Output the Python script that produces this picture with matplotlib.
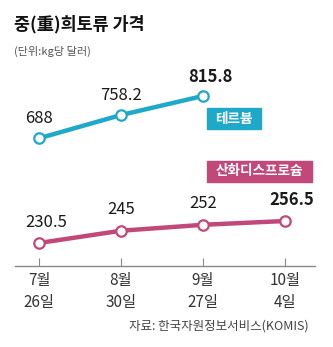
import matplotlib.pyplot as plt
from matplotlib.patches import Rectangle

plt.rcParams['font.family'] = ['Noto Sans CJK KR', 'DejaVu Sans']

dates = ['7월\n26일', '8월\n30일', '9월\n27일', '10월\n4일']
terbium = [688, 758.2, 815.8]
dysprosium = [230.5, 245, 252, 256.5]
terbium_name = '테르븀'
dysprosium_name = '산화디스프로슘'

blue = '#1ea8c9'
pink = '#c2487a'

W, H = 333, 347
fig = plt.figure(figsize=(W / 100, H / 100), dpi=100)

# plot area in pixels: x 15..315, y 60..266 (from top)
rect = [15 / W, (H - 266) / H, 300 / W, 206 / H]
ax_lo = fig.add_axes(rect)
ax_hi = fig.add_axes(rect, sharex=ax_lo)
for a in (ax_lo, ax_hi):
    a.patch.set_alpha(0)
    for s in ['top', 'right', 'left']:
        a.spines[s].set_visible(False)
    a.set_yticks([])
ax_hi.spines['bottom'].set_visible(False)
ax_hi.tick_params(bottom=False, labelbottom=False)

xs = range(len(dates))
ax_lo.set_xlim(-0.293, 3.366)
ax_hi.set_ylim(302, 924.5)
ax_lo.set_ylim(203.3, 446.8)

marker = dict(marker='o', markersize=7.5, markerfacecolor='white',
              markeredgewidth=1.6, lw=3.2, solid_capstyle='round')
ax_hi.plot(range(len(terbium)), terbium, color=blue, markeredgecolor=blue, **marker)
ax_lo.plot(xs, dysprosium, color=pink, markeredgecolor=pink, **marker)

ax_lo.spines['bottom'].set_color('#888888')
ax_lo.spines['bottom'].set_linewidth(1)
ax_lo.set_xticks(list(xs))
ax_lo.set_xticklabels(dates, fontsize=11, color='#333333', linespacing=1.4)
ax_lo.tick_params(axis='x', direction='in', length=6, width=0.8,
                  color='#888888', pad=4)

# value labels, last point of each series in bold
for i, v in enumerate(terbium):
    wt = 'bold' if i == len(terbium) - 1 else 'normal'
    dx = 5 if i == len(terbium) - 1 else 0
    ax_hi.annotate(f'{v:g}', (i, v), xytext=(dx, 14), textcoords='offset points',
                   ha='center', va='center', fontsize=12, fontweight=wt,
                   color='#1a1a1a')
for i, v in enumerate(dysprosium):
    wt = 'bold' if i == len(dysprosium) - 1 else 'normal'
    dx = 5 if i in (0, 3) else 0
    ax_lo.annotate(f'{v:g}', (i, v), xytext=(dx, 15), textcoords='offset points',
                   ha='center', va='center', fontsize=12, fontweight=wt,
                   color='#1a1a1a')

# series name tags
for name, col, (x0, y0, x1, y1) in [(terbium_name, blue, (207, 108, 261, 129)),
                                     (dysprosium_name, pink, (207, 161, 312, 182))]:
    fig.patches.append(Rectangle((x0 / W, 1 - y1 / H), (x1 - x0) / W, (y1 - y0) / H,
                                 transform=fig.transFigure, color=col))
    fig.text((x0 + x1) / 2 / W, 1 - (y0 + y1) / 2 / H, name, ha='center', va='center',
             color='white', fontsize=9.8, fontweight='bold')

fig.text(14 / W, 1 - 24 / H, '중(重)희토류 가격', fontsize=12.5, fontweight='bold',
         color='#111111', va='center', ha='left')
fig.text(14 / W, 1 - 51 / H, '(단위:kg당 달러)', fontsize=8, color='#555555',
         va='center', ha='left')
fig.text(309 / W, 1 - 326 / H, '자료: 한국자원정보서비스(KOMIS)', fontsize=9,
         color='#444444', va='center', ha='right')

fig.savefig('out.png', dpi=100, facecolor='white')
